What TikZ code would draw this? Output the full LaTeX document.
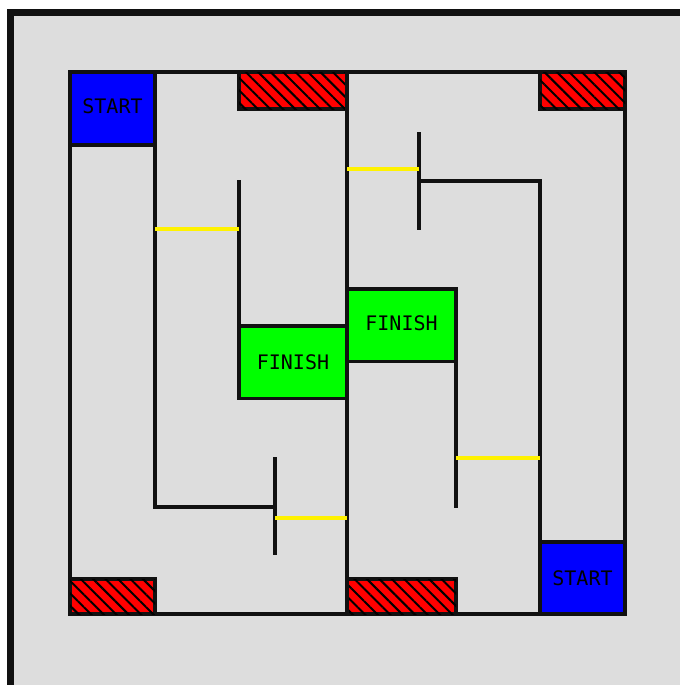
\documentclass[tikz,border=0pt]{standalone}
\usepackage{fontspec}
\setmonofont{DejaVu Sans Mono}
\usetikzlibrary{patterns.meta}

\definecolor{floorgray}{HTML}{DDDDDD}
\definecolor{wallblack}{HTML}{111111}

\begin{document}
\begin{tikzpicture}[
        x=0.5pt, y=-0.5pt,
        wall/.style={line width=1.6pt, wallblack},
        door/.style={line width=2pt, yellow},
        zone/.style={draw=wallblack, line width=1.6pt, inner sep=0pt, outer sep=0pt, anchor=north west, font=\ttfamily\fontsize{10}{10}\selectfont},
        startbox/.style={zone, fill=blue, minimum width=42.5pt},
        finishbox/.style={zone, fill=green, minimum height=36.25pt},
        hazard/.style={zone, fill=red, postaction={pattern={Lines[angle=-45, distance=4.4pt, line width=1pt]}}},
      ]
      \useasboundingbox (0,0) rectangle (680,685);

      % floor and frame
      \fill[floorgray] (14,16) rectangle (680,685);
      \draw[line width=3.5pt, wallblack] (10.5,685) -- (10.5,12.5) -- (680,12.5);

      % maze outline
      \draw[wall] (70,72) rectangle (625,614);

      % start, finish and hazard zones
      \node[startbox, minimum height=36.5pt] (startA) at (70,72) {\raisebox{2.5pt}{START}};
      \node[startbox, minimum height=36pt] (startB) at (540,542) {\raisebox{-3pt}{START}};
      \node[finishbox, minimum width=54pt] (finishA) at (239,326) {\raisebox{-3pt}{FINISH}};
      \node[finishbox, minimum width=54.5pt] (finishB) at (347,289) {\raisebox{2.5pt}{FINISH}};
      \node[hazard, minimum width=54pt, minimum height=18.5pt] (hazA) at (239,72) {};
      \node[hazard, minimum width=42.5pt, minimum height=18.5pt] (hazB) at (540,72) {};
      \node[hazard, minimum width=42.5pt, minimum height=17.5pt] (hazC) at (70,579) {};
      \node[hazard, minimum width=54.5pt, minimum height=17.5pt] (hazD) at (347,579) {};

      % walls
      \draw[wall] (startA.north east) -- ++(0,435) -- ++(120,0);
      \draw[wall] (275,457) -- (275,555);
      \draw[wall] (347,72) -- (347,614);
      \draw[wall] (239,180) -- (finishA.north west);
      \draw[wall] (419,132) -- (419,230);
      \draw[wall] (419,181) -- (540,181) -- (startB.north west);
      \draw[wall] (finishB.south east) -- ++(0,146);

      % doors
      \draw[door] (155,229) -- (239,229);
      \draw[door] (347,169) -- (419,169);
      \draw[door] (456,458) -- (540,458);
      \draw[door] (275,518) -- (347,518);
    \end{tikzpicture}
\end{document}
